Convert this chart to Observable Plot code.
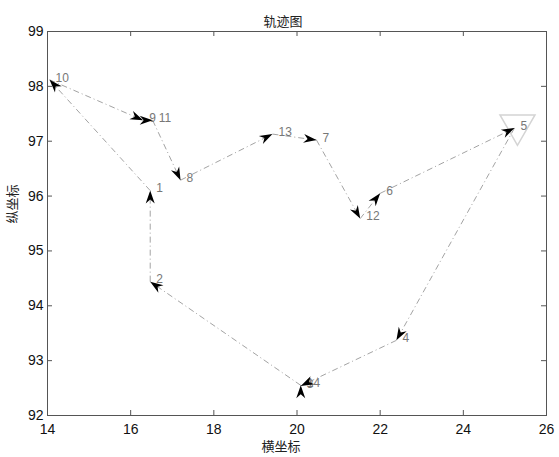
<!DOCTYPE html>
<html><head><meta charset="utf-8">
<script src="https://cdn.jsdelivr.net/npm/d3@7"></script>
<script src="https://cdn.jsdelivr.net/npm/@observablehq/plot@0.6"></script>
<style>body{margin:0;background:#fff;} #chart svg{display:block;}</style>
</head><body><div id="chart"></div>
<script>
// City ids and coordinates
const cityIds = [1, 2, 3, 4, 5, 6, 7, 8, 9, 10, 11, 12, 13, 14];
const cityX = [16.47, 16.47, 20.09, 22.39, 25.23, 22.00, 20.47, 17.20, 16.30, 14.05, 16.53, 21.52, 19.41, 20.09];
const cityY = [96.10, 94.44, 92.54, 93.37, 97.24, 96.05, 97.02, 96.29, 97.38, 98.12, 97.38, 95.59, 97.13, 92.55];
// Visiting order of the trajectory
const tour = [1, 10, 9, 11, 8, 13, 7, 12, 6, 5, 4, 3, 14, 2, 1];
const startCity = [5];
const xTicks = [14, 16, 18, 20, 22, 24, 26];
const yTicks = [92, 93, 94, 95, 96, 97, 98, 99];
const titleText = "轨迹图";
const xLabel = "横坐标";
const yLabel = "纵坐标";

const cities = cityIds.map((id, i) => ({id, x: cityX[i], y: cityY[i]}));
const segs = d3.pairs(tour).map(([a, b]) => ({
  x1: cityX[a - 1], y1: cityY[a - 1], x2: cityX[b - 1], y2: cityY[b - 1]
}));

const W = 559, H = 457;
const mL = 47, mR = 13, mT = 31, mB = 42;
const innerW = W - mL - mR, innerH = H - mT - mB;
const tk = 5;
const cjk = "'Noto Sans CJK SC', sans-serif";

function heads(index, scales, values, dimensions, context, next) {
  const g = next(index, scales, values, dimensions, context);
  const {x1: X1, y1: Y1, x2: X2, y2: Y2} = values;
  const L = 13, Wd = 9, N = 4;
  for (const i of index) {
    const a = Math.atan2(Y2[i] - Y1[i], X2[i] - X1[i]) * 180 / Math.PI;
    const p = document.createElementNS("http://www.w3.org/2000/svg", "path");
    p.setAttribute("d", `M0,0L${-L},${-Wd / 2}L${-L + N},0L${-L},${Wd / 2}Z`);
    p.setAttribute("fill", "#000");
    p.setAttribute("transform", `translate(${X2[i]},${Y2[i]}) rotate(${a})`);
    g.appendChild(p);
  }
  return g;
}

const chart = Plot.plot({
  width: W, height: H,
  marginLeft: mL, marginRight: mR, marginTop: mT, marginBottom: mB,
  style: {fontFamily: "'Liberation Sans', Arial, sans-serif", background: "#fff"},
  x: {domain: [14, 26], ticks: xTicks, label: null},
  y: {domain: [92, 99], ticks: yTicks, label: null},
  marks: [
    Plot.axisX(xTicks, {anchor: "bottom", tickSize: 0, tickPadding: 9, fontSize: 14, fill: "#111", tickFormat: d => d, label: null}),
    Plot.axisY(yTicks, {anchor: "left", tickSize: 0, tickPadding: 4, fontSize: 14, fill: "#111", tickFormat: d => d, label: null}),
    Plot.tickX(xTicks, {x: d => d, insetTop: innerH - tk, stroke: "#555"}),
    Plot.tickX(xTicks, {x: d => d, insetBottom: innerH - tk, stroke: "#555"}),
    Plot.tickY(yTicks, {y: d => d, insetRight: innerW - tk, stroke: "#555"}),
    Plot.tickY(yTicks, {y: d => d, insetLeft: innerW - tk, stroke: "#555"}),
    Plot.frame({stroke: "#555"}),
    Plot.dot(cities.filter(d => startCity.includes(d.id)), {x: "x", y: "y", symbol: "triangle", rotate: 180, r: 13, stroke: "#d4d4d4", fill: "none", dx: 3, dy: -3}),
    Plot.link(segs, {x1: "x1", y1: "y1", x2: "x2", y2: "y2", stroke: "#999", strokeWidth: 0.9, strokeDasharray: "6,3,1,3"}),
    Plot.text(cities, {x: "x", y: "y", text: d => String(d.id), textAnchor: "start", dx: 6, dy: -2, fill: "#777", fontSize: 12}),
    Plot.link(segs, {x1: "x1", y1: "y1", x2: "x2", y2: "y2", strokeOpacity: 0, render: heads}),
    Plot.text([titleText], {frameAnchor: "top", dy: -15, dx: -14, fontSize: 13, fill: "#222", fontFamily: cjk}),
    Plot.text([xLabel], {frameAnchor: "bottom", dy: 35, dx: -16, fontSize: 13, fill: "#222", fontFamily: cjk}),
    Plot.text([yLabel], {frameAnchor: "left", dx: -35, rotate: -90, fontSize: 13, fill: "#222", fontFamily: cjk})
  ]
});
document.getElementById("chart").appendChild(chart);
</script>
</body></html>
